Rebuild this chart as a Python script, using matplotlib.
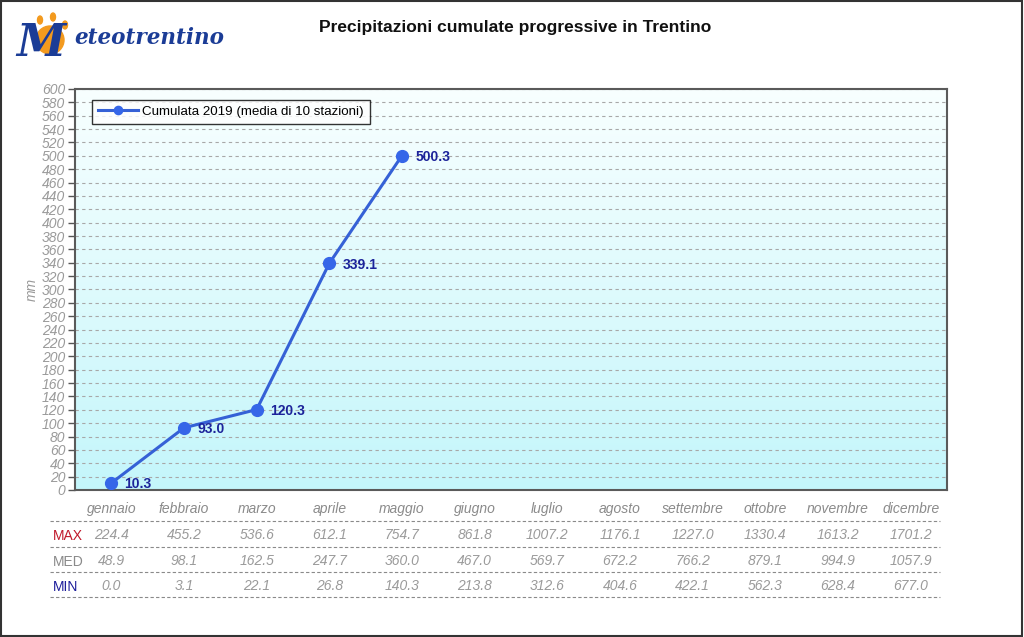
import numpy as np
import matplotlib.pyplot as plt
from matplotlib.transforms import blended_transform_factory
from matplotlib.lines import Line2D
from matplotlib.patches import Ellipse, Rectangle

plt.rcParams['font.family'] = ['Liberation Sans', 'DejaVu Sans']

# Data
mesi = ['gennaio', 'febbraio', 'marzo', 'aprile', 'maggio', 'giugno',
        'luglio', 'agosto', 'settembre', 'ottobre', 'novembre', 'dicembre']
cumulata_2019 = [10.3, 93.0, 120.3, 339.1, 500.3]
val_max = [224.4, 455.2, 536.6, 612.1, 754.7, 861.8, 1007.2, 1176.1, 1227.0, 1330.4, 1613.2, 1701.2]
val_med = [48.9, 98.1, 162.5, 247.7, 360.0, 467.0, 569.7, 672.2, 766.2, 879.1, 994.9, 1057.9]
val_min = [0.0, 3.1, 22.1, 26.8, 140.3, 213.8, 312.6, 404.6, 422.1, 562.3, 628.4, 677.0]
y_ticks = list(range(0, 601, 20))

fig = plt.figure(figsize=(10.24, 6.37), dpi=100)
fig.patch.set_facecolor('white')
ax = fig.add_axes([0.0732, 0.2308, 0.8516, 0.6295])

# gradient background (white at top -> light cyan at bottom)
grad = np.linspace(0, 1, 256).reshape(-1, 1)
cmap = plt.matplotlib.colors.LinearSegmentedColormap.from_list('bg', ['#f8ffff', '#c4f6fb'])
ax.imshow(grad, aspect='auto', cmap=cmap, extent=[-0.5, 11.5, 0, 600], origin='upper', zorder=0)

x = np.arange(len(cumulata_2019))
ax.plot(x, cumulata_2019, color='#3561d6', linewidth=2.2, marker='o', markersize=8.5,
        markerfacecolor='#3566e8', markeredgecolor='#3566e8',
        label='Cumulata 2019 (media di 10 stazioni)', zorder=3)
for xi, v in zip(x, cumulata_2019):
    ax.annotate(f'{v:.1f}', (xi, v), xytext=(9.5, -1), textcoords='offset points',
                fontsize=10, fontweight='bold', color='#1c239a', va='center', ha='left', zorder=4)

ax.set_xlim(-0.5, 11.5)
ax.set_ylim(0, 600)
ax.set_yticks(y_ticks)
ax.set_yticklabels([str(t) for t in y_ticks], fontsize=10, style='italic', color='#9a9a9a')
ax.tick_params(axis='y', length=5, width=1, color='#555555', pad=2)
ax.set_xticks([])
ax.yaxis.grid(True, linestyle=(0, (3, 3)), color='#a8a8a8', linewidth=0.8)
ax.set_axisbelow(True)
for s in ax.spines.values():
    s.set_color('#5a5a5a')
    s.set_linewidth(1.5)
ax.set_ylabel('mm', fontsize=10, style='italic', color='#9a9a9a', labelpad=2)

leg = ax.legend(loc='upper left', bbox_to_anchor=(0.012, 0.99), fontsize=9.6, frameon=True,
                fancybox=False, edgecolor='black', handlelength=3, borderpad=0.45,
                handletextpad=0.3, markerscale=0.7)
leg.get_frame().set_linewidth(1.0)

# title
fig.text(0.503, 0.957, 'Precipitazioni cumulate progressive in Trentino', ha='center', va='center',
         fontsize=12.5, fontweight='bold', color='#111111')

# logo
fig.patches.append(Ellipse((50 / 1024, 1 - 40 / 637), 28 / 1024, 28 / 637,
                           transform=fig.transFigure, color='#f39a1e', zorder=1))
for (rx, ry) in [(40, 20), (53, 17), (65, 25)]:
    fig.patches.append(Ellipse((rx / 1024, 1 - ry / 637), 5 / 1024, 8 / 637,
                               transform=fig.transFigure, color='#f39a1e', zorder=1))
fig.text(16 / 1024, 1 - 44 / 637, 'M', fontsize=32, style='italic', fontweight='bold', color='#1b3c96',
         family='DejaVu Serif', va='center', ha='left', zorder=2)
fig.text(74 / 1024, 1 - 38 / 637, 'eteotrentino', fontsize=15.5, style='italic', fontweight='bold',
         color='#1b3c96', family='DejaVu Serif', va='center', ha='left', zorder=2)

# table under the chart
tr = blended_transform_factory(ax.transData, fig.transFigure)
def fy(py):
    return 1 - py / 637.0

for i, m in enumerate(mesi):
    ax.text(i, fy(509), m, transform=tr, ha='center', va='center', fontsize=10,
            style='italic', color='#8a8a8a', clip_on=False)
    ax.text(i, fy(535), f'{val_max[i]:.1f}', transform=tr, ha='center', va='center',
            fontsize=10, style='italic', color='#9a9a9a', clip_on=False)
    ax.text(i, fy(561), f'{val_med[i]:.1f}', transform=tr, ha='center', va='center',
            fontsize=10, style='italic', color='#9a9a9a', clip_on=False)
    ax.text(i, fy(586), f'{val_min[i]:.1f}', transform=tr, ha='center', va='center',
            fontsize=10, style='italic', color='#9a9a9a', clip_on=False)

fig.text(53 / 1024, fy(536), 'MAX', fontsize=10, color='#c0182a', va='center', ha='left')
fig.text(53 / 1024, fy(562), 'MED', fontsize=10, color='#8a8a8a', va='center', ha='left')
fig.text(53 / 1024, fy(587), 'MIN', fontsize=10, color='#1c1c9a', va='center', ha='left')

for py in [521, 547, 572, 597]:
    fig.lines.append(Line2D([50 / 1024, 940 / 1024], [fy(py), fy(py)], transform=fig.transFigure,
                            linestyle=(0, (3, 2)), color='#8a8a8a', linewidth=0.8))

# outer border
fig.patches.append(Rectangle((0.001, 0.001), 0.997, 0.997, transform=fig.transFigure,
                             fill=False, edgecolor='#333333', linewidth=1.5))

fig.savefig('out.png', dpi=100)
